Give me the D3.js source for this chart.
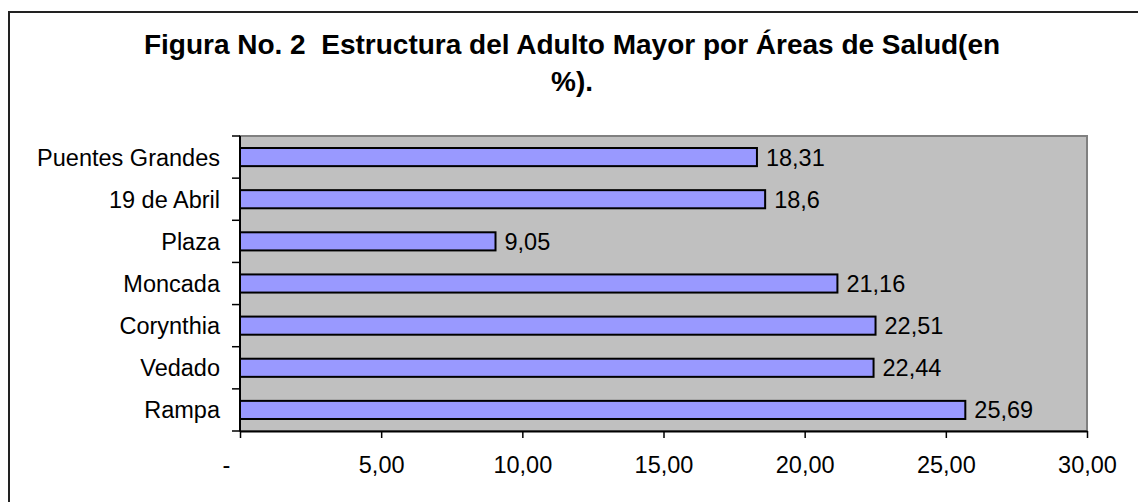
<!DOCTYPE html>
<html>
<head>
<meta charset="utf-8">
<script src="https://cdn.jsdelivr.net/npm/d3@7"></script>
<style>
  html, body { margin: 0; padding: 0; background: #fff; }
  svg { display: block; font-family: "Liberation Sans", Arial, sans-serif; }
</style>
</head>
<body>
<div id="container"></div>
<script>
const categories = ["Puentes Grandes", "19 de Abril", "Plaza", "Moncada", "Corynthia", "Vedado", "Rampa"];
const values = [18.31, 18.6, 9.05, 21.16, 22.51, 22.44, 25.69];
const xTicks = [0, 5, 10, 15, 20, 25, 30];
const titleLines = ["Figura No. 2  Estructura del Adulto Mayor por Áreas de Salud(en", "%)."];

const width = 1138;
const height = 502;
const margin = { t: 136, r: 51, b: 71, l: 240 };
const fs = 23.5;

const svg = d3.select("#container")
  .append("svg")
  .attr("width", width)
  .attr("height", height);

// outer chart border (runs off the right/bottom edge)
svg.append("rect")
  .attr("x", 9).attr("y", 12)
  .attr("width", width + 20).attr("height", height + 20)
  .attr("fill", "#fff")
  .attr("stroke", "#222")
  .attr("stroke-width", 2);

const x = d3.scaleLinear()
  .domain([0, 30])
  .range([margin.l, width - margin.r]);

const y = d3.scaleBand()
  .domain(categories)
  .range([margin.t, height - margin.b]);

// plot area
svg.append("rect")
  .attr("x", x(0)).attr("y", margin.t)
  .attr("width", x(30) - x(0))
  .attr("height", height - margin.b - margin.t)
  .attr("fill", "#c0c0c0")
  .attr("stroke", "#808080")
  .attr("stroke-width", 2);

const barH = y.bandwidth() * 0.43;

svg.selectAll("rect.bar")
  .data(categories)
  .enter()
  .append("rect")
  .attr("class", "bar")
  .attr("x", x(0))
  .attr("y", d => y(d) + (y.bandwidth() - barH) / 2)
  .attr("width", (d, i) => x(values[i]) - x(0))
  .attr("height", barH)
  .attr("fill", "#9999ff")
  .attr("stroke", "#000")
  .attr("stroke-width", 2);

svg.selectAll("text.val")
  .data(categories)
  .enter()
  .append("text")
  .attr("class", "val")
  .attr("x", (d, i) => x(values[i]) + 9)
  .attr("y", d => y(d) + y.bandwidth() / 2)
  .attr("dy", "0.36em")
  .attr("font-size", fs)
  .attr("fill", "#000")
  .text((d, i) => String(values[i]).replace(".", ","));

// y axis: ticks at band boundaries
const yEdges = categories.map(c => y(c)).concat([height - margin.b]);
svg.selectAll("line.ytick")
  .data(yEdges)
  .enter()
  .append("line")
  .attr("x1", x(0) - 8).attr("x2", x(0))
  .attr("y1", d => d).attr("y2", d => d)
  .attr("stroke", "#000").attr("stroke-width", 1.5);

svg.append("line")
  .attr("x1", x(0)).attr("x2", x(0))
  .attr("y1", margin.t).attr("y2", height - margin.b)
  .attr("stroke", "#000").attr("stroke-width", 2);

svg.selectAll("text.ylab")
  .data(categories)
  .enter()
  .append("text")
  .attr("class", "ylab")
  .attr("x", x(0) - 20)
  .attr("y", d => y(d) + y.bandwidth() / 2)
  .attr("dy", "0.36em")
  .attr("text-anchor", "end")
  .attr("font-size", fs)
  .text(d => d);

// x axis
const xAxis = svg.append("g")
  .attr("transform", `translate(0,${height - margin.b})`)
  .call(d3.axisBottom(x)
    .tickValues(xTicks)
    .tickSizeInner(7)
    .tickSizeOuter(0)
    .tickPadding(18)
    .tickFormat(d => d === 0 ? "-" : d3.format(".2f")(d).replace(".", ",")));

xAxis.select(".domain").attr("stroke", "#000").attr("stroke-width", 2);
xAxis.selectAll(".tick line").attr("stroke", "#000").attr("stroke-width", 1.5);
xAxis.selectAll(".tick text")
  .attr("font-family", "Liberation Sans, Arial, sans-serif")
  .attr("font-size", fs)
  .attr("fill", "#000")
  .attr("dx", d => d === 0 ? -14 : 0);

// title
svg.selectAll("text.title")
  .data(titleLines)
  .enter()
  .append("text")
  .attr("class", "title")
  .attr("x", 572)
  .attr("y", (d, i) => 54 + i * 37)
  .attr("text-anchor", "middle")
  .attr("font-size", 28)
  .attr("font-weight", "bold")
  .style("white-space", "pre")
  .text(d => d);
</script>
</body>
</html>
